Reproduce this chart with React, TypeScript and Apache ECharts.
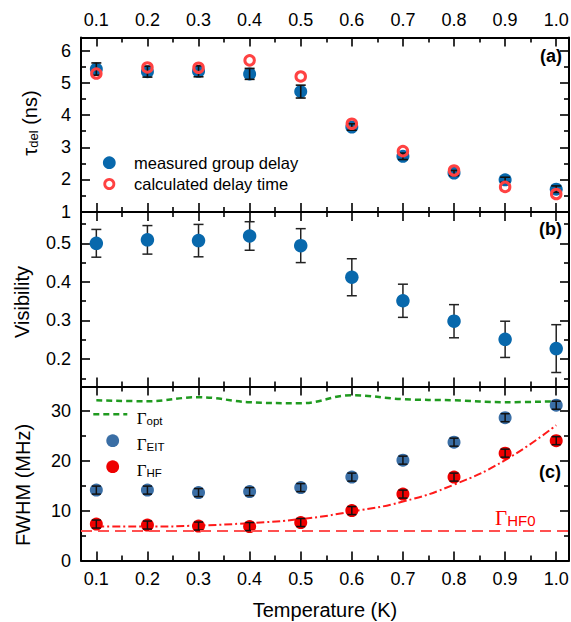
import React, { useEffect, useRef } from "react";
import * as echarts from "echarts";

// ---------------- data ----------------
const temperatures = [0.1, 0.2, 0.3, 0.4, 0.5, 0.6, 0.7, 0.8, 0.9, 1.0];
const xMajorTicks = [0.1, 0.2, 0.3, 0.4, 0.5, 0.6, 0.7, 0.8, 0.9, 1.0];
const xMinorTicks = [0.15, 0.25, 0.35, 0.45, 0.55, 0.65, 0.75, 0.85, 0.95];

const delayMeasured = [5.43, 5.35, 5.36, 5.28, 4.73, 3.63, 2.72, 2.2, 1.99, 1.7];
const delayMeasuredErr = [0.19, 0.17, 0.17, 0.17, 0.2, 0.1, 0.1, 0.08, 0.08, 0.1];
const delayCalculated = [5.29, 5.48, 5.47, 5.7, 5.2, 3.73, 2.88, 2.28, 1.77, 1.55];
const delayMajorTicks = [1, 2, 3, 4, 5, 6];
const delayMinorTicks = [1.5, 2.5, 3.5, 4.5, 5.5];

const visibility = [0.5, 0.509, 0.507, 0.519, 0.494, 0.412, 0.351, 0.298, 0.251, 0.227];
const visibilityErr = [0.036, 0.037, 0.042, 0.037, 0.044, 0.048, 0.043, 0.043, 0.047, 0.062];
const visMajorTicks = [0.2, 0.3, 0.4, 0.5];
const visMinorTicks = [0.15, 0.25, 0.35, 0.45, 0.55];

const gammaOpt = [32.1, 31.9, 32.7, 31.7, 31.5, 33.1, 32.3, 32.1, 31.7, 31.9];
const gammaEIT = [14.1, 14.1, 13.6, 13.8, 14.6, 16.7, 20.1, 23.7, 28.6, 31.1];
const gammaEITErr = [0.8, 0.8, 0.8, 0.8, 0.8, 0.8, 0.8, 0.8, 0.8, 0.8];
const gammaHF = [7.3, 7.1, 6.9, 6.8, 7.6, 10.0, 13.3, 16.7, 21.5, 24.0];
const gammaHFErr = [0.8, 0.8, 0.8, 0.8, 0.8, 0.8, 0.8, 0.8, 0.8, 0.8];
const gammaHFFit = [6.8, 6.8, 7.0, 7.5, 8.3, 9.8, 11.8, 15.2, 20.1, 27.1];
const gammaHF0 = 6.0;
const fwhmMajorTicks = [0, 10, 20, 30];
const fwhmMinorTicks = [5, 15, 25];

const legendDelay = ["measured group delay", "calculated delay time"];
const legendGammaSubs = ["opt", "EIT", "HF"];

// ---------------- style ----------------
const SANS = "'Liberation Sans', Arial, sans-serif";
const SERIF = "'Liberation Serif', 'Times New Roman', serif";
const measuredBlue = "#0868ac";
const ringRed = "#ff4242";
const eitBlue = "#3a6ea5";
const hfRed = "#ee0000";
const optGreen = "#1f9a1f";

const X_MIN = 0.07;
const X_MAX = 1.025;

const grids = [
  { left: 81, right: 2, top: 37.5, height: 174.5 },
  { left: 81, right: 2, top: 212, height: 174.5 },
  { left: 81, right: 2, top: 386.5, height: 174 },
];
const yRanges = [
  [0.99, 6.41],
  [0.1287, 0.5812],
  [0, 34.85],
];

const tickLine = { color: "#000", width: 1.6 };
const frameLine = { color: "#000", width: 2 };

function xAxesFor(g: number, labelsBottom: boolean, labelsTop: boolean) {
  const base: any = {
    type: "value",
    gridIndex: g,
    min: X_MIN,
    max: X_MAX,
    splitLine: { show: false },
    axisLine: { show: false, onZero: false },
    axisLabel: { show: false },
    axisTick: { show: false },
  };
  const label = (show: boolean) => ({
    show,
    customValues: xMajorTicks,
    formatter: (v: number) => v.toFixed(1),
    fontFamily: SANS,
    fontSize: 18,
    color: "#000",
    margin: 9,
  });
  return [
    {
      ...base,
      position: "bottom",
      axisLine: { show: true, onZero: false, lineStyle: frameLine },
      axisTick: { show: true, inside: true, length: 9, customValues: xMajorTicks, lineStyle: tickLine },
      axisLabel: label(labelsBottom),
    },
    {
      ...base,
      position: "bottom",
      axisTick: { show: true, inside: true, length: 5, customValues: xMinorTicks, lineStyle: tickLine },
    },
    {
      ...base,
      position: "top",
      axisLine: { show: true, onZero: false, lineStyle: frameLine },
      axisTick: { show: true, inside: true, length: 9, customValues: xMajorTicks, lineStyle: tickLine },
      axisLabel: label(labelsTop),
    },
    {
      ...base,
      position: "top",
      axisTick: { show: true, inside: true, length: 5, customValues: xMinorTicks, lineStyle: tickLine },
    },
  ];
}

function yAxesFor(g: number, major: number[], minor: number[], fmt: (v: number) => string) {
  const base: any = {
    type: "value",
    gridIndex: g,
    min: yRanges[g][0],
    max: yRanges[g][1],
    splitLine: { show: false },
    axisLine: { show: false, onZero: false },
    axisLabel: { show: false },
    axisTick: { show: false },
  };
  return [
    {
      ...base,
      position: "left",
      axisLine: { show: true, onZero: false, lineStyle: frameLine },
      axisTick: { show: true, inside: true, length: 9, customValues: major, lineStyle: tickLine },
      axisLabel: {
        show: true,
        customValues: major,
        formatter: fmt,
        fontFamily: SANS,
        fontSize: 18,
        color: "#000",
        margin: 10,
      },
    },
    {
      ...base,
      position: "left",
      axisTick: { show: true, inside: true, length: 5, customValues: minor, lineStyle: tickLine },
    },
    {
      ...base,
      position: "right",
      axisLine: { show: true, onZero: false, lineStyle: frameLine },
      axisTick: { show: true, inside: true, length: 9, customValues: major, lineStyle: tickLine },
    },
    {
      ...base,
      position: "right",
      axisTick: { show: true, inside: true, length: 5, customValues: minor, lineStyle: tickLine },
    },
  ];
}

function errorBars(values: number[], errs: number[]) {
  return temperatures.map((t, i) => [t, values[i] - errs[i], values[i] + errs[i]]);
}

function errorBarRenderer(capHalf: number, color: string, lw: number) {
  return (_params: any, api: any) => {
    const x = api.value(0);
    const lo = api.coord([x, api.value(1)]);
    const hi = api.coord([x, api.value(2)]);
    const style = { stroke: color, lineWidth: lw };
    return {
      type: "group",
      children: [
        { type: "line", shape: { x1: lo[0], y1: lo[1], x2: hi[0], y2: hi[1] }, style },
        { type: "line", shape: { x1: lo[0] - capHalf, y1: lo[1], x2: lo[0] + capHalf, y2: lo[1] }, style },
        { type: "line", shape: { x1: hi[0] - capHalf, y1: hi[1], x2: hi[0] + capHalf, y2: hi[1] }, style },
      ],
    };
  };
}

const pairs = (vals: number[]) => temperatures.map((t, i) => [t, vals[i]]);

const gammaRich = (color: string, gSize: number, sSize: number, gLH: number, sLH: number) => ({
  g: { fontFamily: SERIF, fontSize: gSize, lineHeight: gLH, verticalAlign: "bottom", fill: color },
  s: { fontFamily: SANS, fontSize: sSize, lineHeight: sLH, verticalAlign: "bottom", fill: color },
});

function gammaText(x: number, y: number, sub: string) {
  return {
    type: "text",
    x,
    y,
    style: {
      text: `{g|Γ}{s|${sub}}`,
      align: "left",
      verticalAlign: "middle",
      rich: gammaRich("#000", 17, 11.5, 22, 10),
    },
  };
}

export default function App() {
  const ref = useRef<HTMLDivElement>(null);

  useEffect(() => {
    document.body.style.margin = "0";
    if (!ref.current) return;
    const chart = echarts.init(ref.current, null, { renderer: "svg" });

    const xAxis = [...xAxesFor(0, false, true), ...xAxesFor(1, false, false), ...xAxesFor(2, true, false)];
    const yAxis = [
      ...yAxesFor(0, delayMajorTicks, delayMinorTicks, (v) => String(Math.round(v))),
      ...yAxesFor(1, visMajorTicks, visMinorTicks, (v) => v.toFixed(1)),
      ...yAxesFor(2, fwhmMajorTicks, fwhmMinorTicks, (v) => String(Math.round(v))),
    ];

    const option: any = {
      animation: false,
      backgroundColor: "#fff",
      grid: grids.map((g) => ({ ...g, containLabel: false, outerBoundsMode: "none" })),
      xAxis,
      yAxis,
      series: [
        // panel (a)
        {
          name: legendDelay[0],
          type: "scatter",
          xAxisIndex: 0,
          yAxisIndex: 0,
          symbol: "circle",
          symbolSize: 13,
          itemStyle: { color: measuredBlue, opacity: 1 },
          data: pairs(delayMeasured),
          z: 2,
        },
        {
          type: "custom",
          xAxisIndex: 0,
          yAxisIndex: 0,
          renderItem: errorBarRenderer(5, "#111", 1.6),
          encode: { x: 0, y: [1, 2] },
          data: errorBars(delayMeasured, delayMeasuredErr),
          silent: true,
          z: 3,
        },
        {
          name: legendDelay[1],
          type: "scatter",
          xAxisIndex: 0,
          yAxisIndex: 0,
          symbol: "circle",
          symbolSize: 9.5,
          itemStyle: { color: "rgba(255,255,255,0)", borderColor: ringRed, borderWidth: 3, opacity: 1 },
          data: pairs(delayCalculated),
          z: 4,
        },
        // panel (b)
        {
          type: "custom",
          xAxisIndex: 4,
          yAxisIndex: 4,
          renderItem: errorBarRenderer(5, "#222", 1.5),
          encode: { x: 0, y: [1, 2] },
          data: errorBars(visibility, visibilityErr),
          silent: true,
          z: 2,
        },
        {
          name: "Visibility",
          type: "scatter",
          xAxisIndex: 4,
          yAxisIndex: 4,
          symbol: "circle",
          symbolSize: 13.5,
          itemStyle: { color: measuredBlue, opacity: 1 },
          data: pairs(visibility),
          z: 3,
        },
        // panel (c)
        {
          name: "Γopt",
          type: "line",
          xAxisIndex: 8,
          yAxisIndex: 8,
          symbol: "none",
          smooth: 0.4,
          lineStyle: { color: optGreen, width: 2.5, type: [6, 4] },
          itemStyle: { color: optGreen },
          data: pairs(gammaOpt),
          z: 2,
        },
        {
          name: "fit",
          type: "line",
          xAxisIndex: 8,
          yAxisIndex: 8,
          symbol: "none",
          smooth: 0.5,
          lineStyle: { color: "#ff1a1a", width: 2, type: [8, 3, 2, 3] },
          data: pairs(gammaHFFit),
          markLine: {
            silent: true,
            symbol: "none",
            label: { show: false },
            lineStyle: { color: "#ff5050", width: 2, type: [11, 6] },
            data: [{ yAxis: gammaHF0 }],
          },
          z: 2,
        },
        {
          name: "ΓEIT",
          type: "scatter",
          xAxisIndex: 8,
          yAxisIndex: 8,
          symbol: "circle",
          symbolSize: 13,
          itemStyle: { color: eitBlue, opacity: 1 },
          data: pairs(gammaEIT),
          z: 3,
        },
        {
          name: "ΓHF",
          type: "scatter",
          xAxisIndex: 8,
          yAxisIndex: 8,
          symbol: "circle",
          symbolSize: 13,
          itemStyle: { color: hfRed, opacity: 1 },
          data: pairs(gammaHF),
          z: 3,
        },
        {
          type: "custom",
          xAxisIndex: 8,
          yAxisIndex: 8,
          renderItem: errorBarRenderer(4.5, "#111", 1.5),
          encode: { x: 0, y: [1, 2] },
          data: errorBars(gammaEIT, gammaEITErr),
          silent: true,
          z: 4,
        },
        {
          type: "custom",
          xAxisIndex: 8,
          yAxisIndex: 8,
          renderItem: errorBarRenderer(4.5, "#111", 1.5),
          encode: { x: 0, y: [1, 2] },
          data: errorBars(gammaHF, gammaHFErr),
          silent: true,
          z: 4,
        },
      ],
      graphic: [
        // legend (a)
        { type: "circle", shape: { cx: 109.3, cy: 162.7, r: 6.4 }, style: { fill: measuredBlue } },
        {
          type: "circle",
          shape: { cx: 109.3, cy: 184, r: 4.6 },
          style: { fill: "#fff", stroke: ringRed, lineWidth: 2.8 },
        },
        {
          type: "text",
          x: 134,
          y: 162.7,
          style: { text: legendDelay[0], font: `16.5px ${SANS}`, fill: "#000", align: "left", verticalAlign: "middle" },
        },
        {
          type: "text",
          x: 134,
          y: 184,
          style: { text: legendDelay[1], font: `16.5px ${SANS}`, fill: "#000", align: "left", verticalAlign: "middle" },
        },
        // legend (c)
        {
          type: "line",
          shape: { x1: 93.3, y1: 414.3, x2: 127.3, y2: 414.3 },
          style: { stroke: optGreen, lineWidth: 2.5, lineDash: [6, 4] },
        },
        { type: "circle", shape: { cx: 112.7, cy: 440.7, r: 6.4 }, style: { fill: eitBlue } },
        { type: "circle", shape: { cx: 112.7, cy: 466.7, r: 6.4 }, style: { fill: hfRed } },
        gammaText(136.7, 416, legendGammaSubs[0]),
        gammaText(136.7, 442, legendGammaSubs[1]),
        gammaText(136.7, 468, legendGammaSubs[2]),
        // panel tags
        {
          type: "text",
          x: 562,
          y: 56,
          style: { text: "(a)", font: `bold 18px ${SANS}`, fill: "#000", align: "right", verticalAlign: "middle" },
        },
        {
          type: "text",
          x: 562,
          y: 229,
          style: { text: "(b)", font: `bold 18px ${SANS}`, fill: "#000", align: "right", verticalAlign: "middle" },
        },
        {
          type: "text",
          x: 561,
          y: 472,
          style: { text: "(c)", font: `bold 18px ${SANS}`, fill: "#000", align: "right", verticalAlign: "middle" },
        },
        {
          type: "text",
          x: 495,
          y: 516,
          style: {
            text: "{g|Γ}{s|HF0}",
            align: "left",
            verticalAlign: "middle",
            rich: gammaRich("#f00", 21, 15, 24, 14),
          },
        },
        // axis titles
        {
          type: "text",
          x: 29,
          y: 123,
          rotation: Math.PI / 2,
          style: {
            text: "{t|τ}{s|del}{t| (ns)}",
            align: "center",
            verticalAlign: "middle",
            rich: {
              t: { fontFamily: SANS, fontSize: 20, lineHeight: 22, verticalAlign: "bottom", fill: "#000" },
              s: { fontFamily: SANS, fontSize: 13, lineHeight: 11, verticalAlign: "bottom", fill: "#000" },
            },
          },
        },
        {
          type: "text",
          x: 22,
          y: 302,
          rotation: Math.PI / 2,
          style: { text: "Visibility", font: `20px ${SANS}`, fill: "#000", align: "center", verticalAlign: "middle" },
        },
        {
          type: "text",
          x: 23,
          y: 485,
          rotation: Math.PI / 2,
          style: { text: "FWHM (MHz)", font: `20px ${SANS}`, fill: "#000", align: "center", verticalAlign: "middle" },
        },
        {
          type: "text",
          x: 325,
          y: 610,
          style: { text: "Temperature (K)", font: `20px ${SANS}`, fill: "#000", align: "center", verticalAlign: "middle" },
        },
      ],
    };

    chart.setOption(option);
    return () => chart.dispose();
  }, []);

  return <div ref={ref} style={{ width: 571, height: 622 }} />;
}
